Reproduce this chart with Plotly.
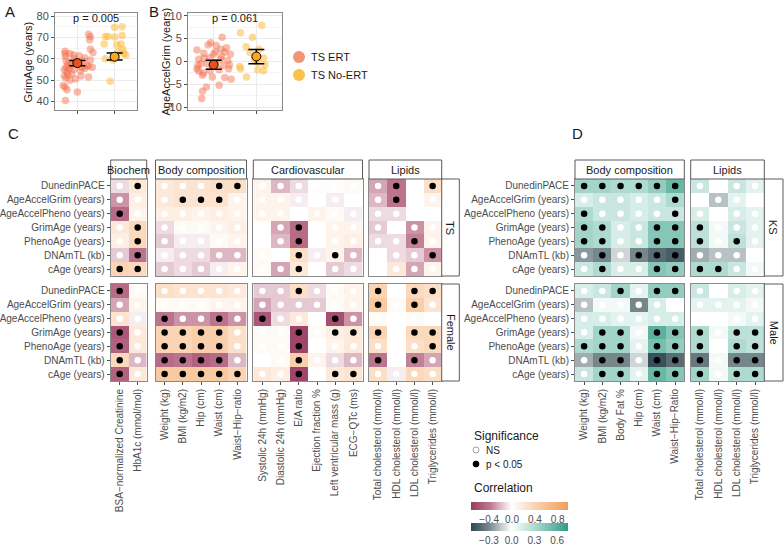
import plotly.graph_objects as go

W, H = 784, 546
def fx(px): return px / W
def fy(py): return 1 - py / H

FONT = "Liberation Sans, Arial, sans-serif"
GRAY = "#4d4d4d"
BORDER = "#8a8a8a"

# ---------------- Panel A / B data ----------------
groups_ab = ["TS ERT", "TS No-ERT"]
grim_ert_dx = [-0.33,-0.33,-0.32,-0.2,-0.1,0.05,0.3,0.35,0.33,0.35,-0.3,-0.25,-0.3,-0.15,-0.05,0.15,0.25,0.3,0.4,-0.35,-0.28,-0.22,-0.15,-0.1,0.08,0.2,-0.35,-0.3,-0.25,-0.2,-0.05,0.1,0.3,-0.38,-0.33,-0.28,0.0,-0.32,0.35,0.42,0.2,-0.08,0.12,-0.18]
grim_ert_y = [63.5,62.5,61,62.5,61.8,61.5,71.5,70.5,69,64.5,59,57.5,56,57,58.5,59,57,56.5,56,55,54,55.5,53,55,54.5,55.5,52,51,52.5,50,50.5,52,51.5,47.5,46.8,45.5,44.5,40.5,59.5,63,60.5,60,56,58.3]
grim_noert_dx = [0.0,0.2,-0.25,-0.18,0.0,0.2,-0.28,0.06,0.17,0.1,0.25,0.3,-0.25,-0.05,-0.12,0.22]
grim_noert_y = [74.8,75,70.5,70.5,70.3,71,67,66.5,67,63.2,62.5,61.8,60,59.5,49.5,64.5]
grim_mean = [58.0, 61.0]
grim_lo = [56.8, 59.5]
grim_hi = [59.2, 62.7]

aag_ert_dx = [-0.39,-0.23,-0.07,-0.13,0.06,0.2,0.17,0.04,0.26,0.39,-0.35,-0.22,-0.09,0.16,0.33,-0.3,-0.37,-0.15,0.22,0.37,-0.35,-0.24,-0.09,0.13,0.35,-0.26,-0.03,0.26,0.41,-0.17,0.13,-0.26,-0.28,0.04,0.19,-0.39,0.0,0.3]
aag_ert_y = [2.5,1.8,4.1,3.6,3.5,5.3,2.7,2.1,2.1,1.6,0.5,0.7,0.9,0.5,0.2,-0.5,-0.9,-0.5,-0.9,-0.75,-2.1,-2.5,-2.0,-1.8,-1.6,-3.0,-3.4,-3.5,-3.9,-5.6,-5.2,-6.5,-8.1,-0.2,1.1,-1.6,1.6,3.0]
aag_noert_dx = [-0.37,0.13,-0.09,-0.24,-0.15,0.06,0.17,0.03,-0.39,-0.37,0.03,0.2,-0.23,0.17,-0.04]
aag_noert_y = [6.3,7.9,5.3,3.2,2.0,2.7,0.75,-0.2,-1.1,-1.6,-1.8,-0.7,-3.4,-2.0,0.4]
aag_mean = [-0.7, 1.1]
aag_lo = [-1.7, -0.5]
aag_hi = [0.3, 2.6]

# ---------------- Heatmap data ----------------
rows = ["DunedinPACE","AgeAccelGrim (years)","AgeAccelPheno (years)","GrimAge (years)",
        "PhenoAge (years)","DNAmTL (kb)","cAge (years)"]

cols_biochem = ["BSA\u2212normalized Creatinine","HbA1c (mmol/mol)"]
cols_body_c = ["Weight (kg)","BMI (kg/m2)","Hip (cm)","Waist (cm)","Waist\u2212Hip\u2212ratio"]
cols_cardio = ["Systolic 24h (mmHg)","Diastolic 24h (mmHg)","E/A ratio","Ejection fraction %",
               "Left ventricular mass (g)","ECG\u2212QTc (ms)"]
cols_lipid = ["Total cholesterol (mmol/l)","HDL cholesterol (mmol/l)","LDL cholesterol (mmol/l)",
              "Triglycerides (mmol/l)"]
cols_body_d = ["Weight (kg)","BMI (kg/m2)","Body Fat %","Hip (cm)","Waist (cm)","Waist\u2212Hip\u2212Ratio"]

ts_biochem_r = [[-0.10,0.20],[-0.30,0.15],[-0.45,0.10],[0.20,0.35],[0.15,0.35],[-0.15,-0.40],[0.40,0.35]]
ts_biochem_p = [[0,1],[0,0],[1,0],[0,1],[0,1],[0,1],[1,1]]
ts_body_r = [[0.20,0.25,0.25,0.30,0.30],[0.20,0.25,0.25,0.25,0.10],[0.15,0.15,0.12,0.15,0.10],
             [-0.10,0.05,0.05,0.10,0.15],[-0.15,-0.05,-0.05,0.05,0.10],[-0.05,-0.10,-0.10,-0.20,-0.20],
             [-0.15,-0.10,-0.15,-0.05,0.10]]
ts_body_p = [[0,0,0,1,1],[0,1,1,1,0],[0,0,0,0,0],[0,0,0,0,0],[0,0,0,0,0],[0,0,0,0,0],[0,0,0,0,0]]
ts_cardio_r = [[0.10,-0.20,-0.10,0.02,0.02,0.05],[0.10,0.10,-0.05,0.00,-0.05,0.00],
               [0.10,0.10,0.00,0.10,0.05,-0.05],[0.00,-0.25,-0.45,0.00,0.10,0.10],
               [0.00,-0.20,-0.45,0.00,0.10,0.15],[0.05,0.00,0.30,-0.05,0.10,-0.20],
               [0.05,-0.25,0.20,0.00,-0.15,-0.10]]
ts_cardio_p = [[0,0,0,0,0,0],[0,0,0,0,0,0],[0,0,0,0,0,0],[0,0,1,0,0,0],[0,0,1,0,0,0],
               [0,0,1,0,1,0],[0,0,1,0,0,0]]
ts_lipid_r = [[-0.25,-0.40,0.00,0.30],[-0.20,-0.40,0.00,0.10],[-0.10,-0.10,0.00,0.00],
              [-0.15,0.00,-0.30,0.10],[-0.10,-0.10,-0.35,0.10],[0.00,-0.10,-0.15,-0.30],
              [0.00,0.20,-0.25,0.10]]
ts_lipid_p = [[0,1,0,1],[0,1,0,0],[0,0,0,0],[0,0,0,0],[0,0,1,0],[0,0,0,1],[0,0,0,0]]

f_biochem_r = [[-0.45,0.05],[-0.25,0.10],[0.25,-0.05],[-0.55,0.20],[-0.50,0.20],[0.35,-0.20],[-0.50,0.20]]
f_biochem_p = [[1,0],[0,0],[0,0],[1,0],[1,0],[1,0],[1,0]]
f_body_r = [[0.30,0.25,0.25,0.25,0.20],[0.05,0.05,0.05,0.10,0.10],[-0.40,-0.30,-0.30,-0.40,-0.30],
            [0.40,0.40,0.45,0.45,0.30],[0.40,0.40,0.45,0.45,0.30],[-0.45,-0.40,-0.50,-0.45,-0.20],
            [0.50,0.50,0.50,0.50,0.40]]
f_body_p = [[0,0,0,0,0],[0,0,0,0,0],[1,0,0,1,0],[1,1,1,1,0],[1,1,1,1,0],[1,1,1,1,0],[1,1,1,1,1]]
f_cardio_r = [[-0.15,-0.15,0.30,-0.10,0.05,0.10],[-0.25,-0.15,-0.15,-0.15,0.05,0.10],
              [-0.55,-0.10,0.20,0.00,-0.60,-0.30],[0.05,0.05,-0.65,0.05,0.15,0.20],
              [0.05,0.05,-0.65,0.00,0.10,0.20],[0.00,0.05,0.45,0.10,-0.10,-0.20],
              [0.20,0.15,-0.65,0.00,0.20,0.25]]
f_cardio_p = [[0,0,1,0,0,0],[0,0,0,0,0,0],[1,0,0,0,1,0],[0,0,1,0,1,1],[0,0,1,0,0,0],
              [0,0,1,0,0,0],[0,0,1,0,1,1]]
f_lipid_r = [[0.40,0.00,0.35,0.30],[0.50,0.05,0.45,0.25],[0.05,0.00,0.05,0.00],[0.40,0.00,0.35,0.35],
             [0.30,0.00,0.30,0.35],[-0.40,0.00,-0.35,-0.25],[0.30,-0.05,0.35,0.30]]
f_lipid_p = [[1,0,1,1],[1,0,1,0],[0,0,0,0],[1,0,1,1],[0,0,0,1],[1,0,1,0],[0,0,0,0]]

ks_body_r = [[0.35,0.35,0.30,0.30,0.40,0.55],[0.15,0.20,0.20,0.15,0.20,0.30],
             [0.30,0.20,0.20,0.15,0.20,0.20],[0.35,0.30,0.15,0.20,0.45,0.45],
             [0.35,0.30,0.15,0.20,0.45,0.45],[-0.25,-0.30,-0.10,-0.30,-0.40,-0.45],
             [0.20,0.30,0.15,0.15,0.45,0.40]]
ks_body_p = [[1,1,1,1,1,1],[0,0,0,0,0,1],[1,0,0,0,0,1],[1,1,0,0,1,1],[1,1,0,0,1,1],
             [0,1,0,1,1,1],[0,1,0,0,1,1]]
ks_lipid_r = [[0.20,0.00,0.20,0.10],[0.00,-0.15,0.10,0.00],[0.15,0.00,0.15,0.10],[0.25,0.05,0.20,0.10],
              [0.25,0.05,0.25,0.10],[-0.20,-0.15,-0.15,0.00],[0.30,0.30,0.20,0.05]]
ks_lipid_p = [[0,0,0,0],[0,0,0,0],[0,0,0,0],[1,0,0,0],[1,0,1,0],[0,0,0,0],[1,1,0,0]]

m_body_r = [[0.15,0.20,0.35,0.10,0.40,0.40],[-0.15,0.05,0.05,-0.30,0.15,0.00],
            [0.15,0.15,0.10,0.10,0.15,0.15],[0.15,0.35,0.35,0.05,0.60,0.45],
            [0.30,0.35,0.35,0.10,0.50,0.40],[-0.20,-0.30,-0.30,-0.10,-0.50,-0.40],
            [0.20,0.35,0.35,0.10,0.55,0.45]]
m_body_p = [[0,0,1,0,1,1],[0,0,0,0,0,0],[0,0,0,0,0,0],[0,1,1,0,1,1],[1,1,1,0,1,1],
            [0,1,1,0,1,1],[0,1,1,0,1,1]]
m_lipid_r = [[0.20,0.00,0.15,0.10],[0.10,0.10,0.10,0.05],[0.00,0.00,0.05,0.10],[0.30,0.05,0.25,0.25],
             [0.30,0.00,0.30,0.25],[-0.35,0.05,-0.30,-0.30],[0.35,0.05,0.30,0.30]]
m_lipid_p = [[0,0,0,0],[0,0,0,0],[0,0,0,0],[1,0,1,1],[1,0,1,1],[1,0,1,1],[1,0,1,1]]

# ---------------- figure ----------------
fig = go.Figure()
layout = dict(width=W, height=H, margin=dict(l=0, r=0, t=0, b=0, pad=0, autoexpand=False),
              paper_bgcolor="white", plot_bgcolor="white", showlegend=False,
              font=dict(family=FONT, size=10, color=GRAY))
shapes, annots = [], []

def note(x, y, text, size=11, xanchor="center", angle=0, color="#1a1a1a"):
    annots.append(dict(x=fx(x), y=fy(y), xref="paper", yref="paper", text=text, showarrow=False,
                       xanchor=xanchor, yanchor="middle", textangle=angle,
                       font=dict(size=size, color=color)))

ERT_C, NOERT_C = "#F26A47", "#FBB62B"
ERT_M, NOERT_M = "#E9501E", "#F7A81E"

def scatter_panel(n, x0, x1, y0, y1, ert_dx, ert_y, no_dx, no_y, mean, lo, hi, yrange, ytick, title, ptxt, tx):
    xa, ya = f"x{n}", f"y{n}"
    fig.add_trace(go.Scatter(x=[1 + d for d in ert_dx], y=ert_y, mode="markers", xaxis=xa, yaxis=ya,
                             marker=dict(size=7.5, color=ERT_C, opacity=0.45), hoverinfo="skip"))
    fig.add_trace(go.Scatter(x=[2 + d for d in no_dx], y=no_y, mode="markers", xaxis=xa, yaxis=ya,
                             marker=dict(size=7.5, color=NOERT_C, opacity=0.5), hoverinfo="skip"))
    fig.add_trace(go.Scatter(x=[1, 2], y=mean, mode="markers", xaxis=xa, yaxis=ya,
                             error_y=dict(type="data", symmetric=False,
                                          array=[h - m for h, m in zip(hi, mean)],
                                          arrayminus=[m - l for l, m in zip(lo, mean)],
                                          color="black", thickness=1.5, width=8),
                             marker=dict(size=9, color=[ERT_M, NOERT_M], line=dict(color="black", width=1)),
                             hoverinfo="skip"))
    layout[f"xaxis{n}"] = dict(domain=[fx(x0), fx(x1)], anchor=ya, range=[0.4, 2.6], tickvals=[1, 2],
                               ticktext=["", ""], showgrid=True, gridcolor="#EBEBEB", zeroline=False,
                               showline=True, mirror=True, linecolor=BORDER, ticks="outside", ticklen=3,
                               tickcolor=GRAY)
    layout[f"yaxis{n}"] = dict(domain=[fy(y1), fy(y0)], anchor=xa, range=yrange, dtick=ytick,
                               showgrid=True, gridcolor="#EBEBEB", zeroline=False, showline=True, mirror=True,
                               linecolor=BORDER, ticks="outside", ticklen=3, tickcolor=GRAY,
                               tickfont=dict(size=11, color=GRAY),
                               minor=dict(dtick=ytick / 2, showgrid=True, gridcolor="#F5F5F5"))
    note(tx, (y0 + y1) / 2, title, angle=-90)
    note((x0 + x1) / 2, 18, ptxt)

scatter_panel(1, 55, 137, 13, 110, grim_ert_dx, grim_ert_y, grim_noert_dx, grim_noert_y,
              grim_mean, grim_lo, grim_hi, [36, 81.5], 10, "GrimAge (years)", "p = 0.005", 27)
scatter_panel(2, 188, 282, 13, 110, aag_ert_dx, aag_ert_y, aag_noert_dx, aag_noert_y,
              aag_mean, aag_lo, aag_hi, [-10.6, 10.6], 5, "AgeAccelGrim (years)", "p = 0.061", 165)

# legend A/B
for cy, col, lab in [(57, "#F49477", "TS ERT"), (75, "#FBC14A", "TS No-ERT")]:
    shapes.append(dict(type="circle", xref="paper", yref="paper", x0=fx(293), x1=fx(305),
                       y0=fy(cy + 6), y1=fy(cy - 6), fillcolor=col, line=dict(width=0)))
    note(309, cy, lab, xanchor="left")

# heatmap facets
axis_n = [3]
def facet(cols, z, p, x0, x1, y0, y1, cax, show_y, show_x):
    n = axis_n[0]; axis_n[0] += 1
    xa, ya = f"x{n}", f"y{n}"
    fig.add_trace(go.Heatmap(x=cols, y=rows, z=z, coloraxis=cax, xaxis=xa, yaxis=ya, hoverinfo="skip"))
    for flag, col in [(0, "white"), (1, "black")]:
        xs = [cols[j] for i in range(len(rows)) for j in range(len(cols)) if p[i][j] == flag]
        ys = [rows[i] for i in range(len(rows)) for j in range(len(cols)) if p[i][j] == flag]
        fig.add_trace(go.Scatter(x=xs, y=ys, mode="markers", xaxis=xa, yaxis=ya, hoverinfo="skip",
                                 marker=dict(size=6.5, color=col, line=dict(width=0))))
    layout[f"xaxis{n}"] = dict(domain=[fx(x0), fx(x1)], anchor=ya, type="category",
                               categoryorder="array", categoryarray=cols, range=[-0.5, len(cols) - 0.5],
                               showticklabels=show_x, tickangle=-90, ticks="outside" if show_x else "",
                               ticklen=3, tickcolor=GRAY, showgrid=False, zeroline=False, showline=True,
                               mirror=True, linecolor=BORDER, tickfont=dict(size=10, color=GRAY))
    layout[f"yaxis{n}"] = dict(domain=[fy(y1), fy(y0)], anchor=xa, type="category",
                               categoryorder="array", categoryarray=rows, range=[len(rows) - 0.5, -0.5],
                               showticklabels=show_y, ticks="outside" if show_y else "", ticklen=3,
                               tickcolor=GRAY, showgrid=False, zeroline=False, showline=True, mirror=True,
                               linecolor=BORDER, tickfont=dict(size=10, color=GRAY))

TOP = (179, 276); BOT = (284, 381)
c_panels = [(cols_biochem, 110.7, 146.7, ts_biochem_r, ts_biochem_p, f_biochem_r, f_biochem_p, "Biochem"),
            (cols_body_c, 155.5, 246.5, ts_body_r, ts_body_p, f_body_r, f_body_p, "Body composition"),
            (cols_cardio, 253.3, 362.5, ts_cardio_r, ts_cardio_p, f_cardio_r, f_cardio_p, "Cardiovascular"),
            (cols_lipid, 369.0, 441.7, ts_lipid_r, ts_lipid_p, f_lipid_r, f_lipid_p, "Lipids")]
d_panels = [(cols_body_d, 575.0, 684.3, ks_body_r, ks_body_p, m_body_r, m_body_p, "Body composition"),
            (cols_lipid, 690.7, 764.3, ks_lipid_r, ks_lipid_p, m_lipid_r, m_lipid_p, "Lipids")]

def strip(x0, x1, y0, y1, text, angle=0):
    shapes.append(dict(type="rect", xref="paper", yref="paper", x0=fx(x0), x1=fx(x1), y0=fy(y1), y1=fy(y0),
                       fillcolor="white", line=dict(color="#5a5a5a", width=1)))
    note((x0 + x1) / 2, (y0 + y1) / 2, text, angle=angle)

for panels, cax, rl, rr, labels in [(c_panels, "coloraxis", 441.7, 459.3, ("TS", "Female")),
                                    (d_panels, "coloraxis2", 764.3, 783.0, ("KS", "Male"))]:
    for k, (cols, x0, x1, zt, pt, zb, pb, name) in enumerate(panels):
        facet(cols, zt, pt, x0, x1, TOP[0], TOP[1], cax, k == 0, False)
        facet(cols, zb, pb, x0, x1, BOT[0], BOT[1], cax, k == 0, True)
        strip(x0, x1, 160, 179, name)
    strip(rl, rr, TOP[0], TOP[1], labels[0], 90)
    strip(rl, rr, BOT[0], BOT[1], labels[1], 90)

# color axes
cb_common = dict(orientation="h", x=fx(520), xanchor="center", yanchor="top", len=96.6 / W,
                 lenmode="fraction", thickness=8, outlinewidth=0, xpad=0, ypad=0, ticks="", ticklen=0,
                 tickfont=dict(size=10, color=GRAY))
layout["coloraxis"] = dict(cmin=-0.71, cmax=0.99,
                           colorscale=[[0, "#983A60"], [0.2, "#C07A92"], [0.418, "#FFFFFF"],
                                       [0.7, "#F9CBA5"], [1, "#F29E58"]],
                           colorbar=dict(cb_common, y=fy(502),
                                         tickvals=[-0.4, 0.0, 0.4, 0.8],
                                         ticktext=["\u22120.4", "0.0", "0.4", "0.8"]))
layout["coloraxis2"] = dict(cmin=-0.53, cmax=0.75,
                            colorscale=[[0, "#2E4852"], [0.2, "#7E8E93"], [0.414, "#FFFFFF"],
                                        [0.7, "#9ED2C6"], [1, "#2E9C84"]],
                            colorbar=dict(cb_common, y=fy(522.5),
                                          tickvals=[-0.3, 0.0, 0.3, 0.6],
                                          ticktext=["\u22120.3", "0.0", "0.3", "0.6"]))

# significance legend
note(472, 436, "Significance", size=12, xanchor="left")
for cy, fill, lab in [(450, "white", "NS"), (464, "black", "p < 0.05")]:
    shapes.append(dict(type="circle", xref="paper", yref="paper", x0=fx(473), x1=fx(479),
                       y0=fy(cy + 3), y1=fy(cy - 3), fillcolor=fill,
                       line=dict(color="#8a8a8a" if fill == "white" else "black", width=0.8)))
    note(484, cy, lab, size=10, xanchor="left")
note(472, 488, "Correlation", size=12, xanchor="left")

# panel letters
for t, x, y in [("A", 10, 11), ("B", 154, 11), ("C", 13, 133), ("D", 577, 133)]:
    note(x, y, t, size=15)

layout["shapes"] = shapes
layout["annotations"] = annots
fig.update_layout(**layout)
fig.write_html("out.html", config={"displayModeBar": False},
               post_script="document.body.style.margin='0';document.body.style.overflow='hidden';")
